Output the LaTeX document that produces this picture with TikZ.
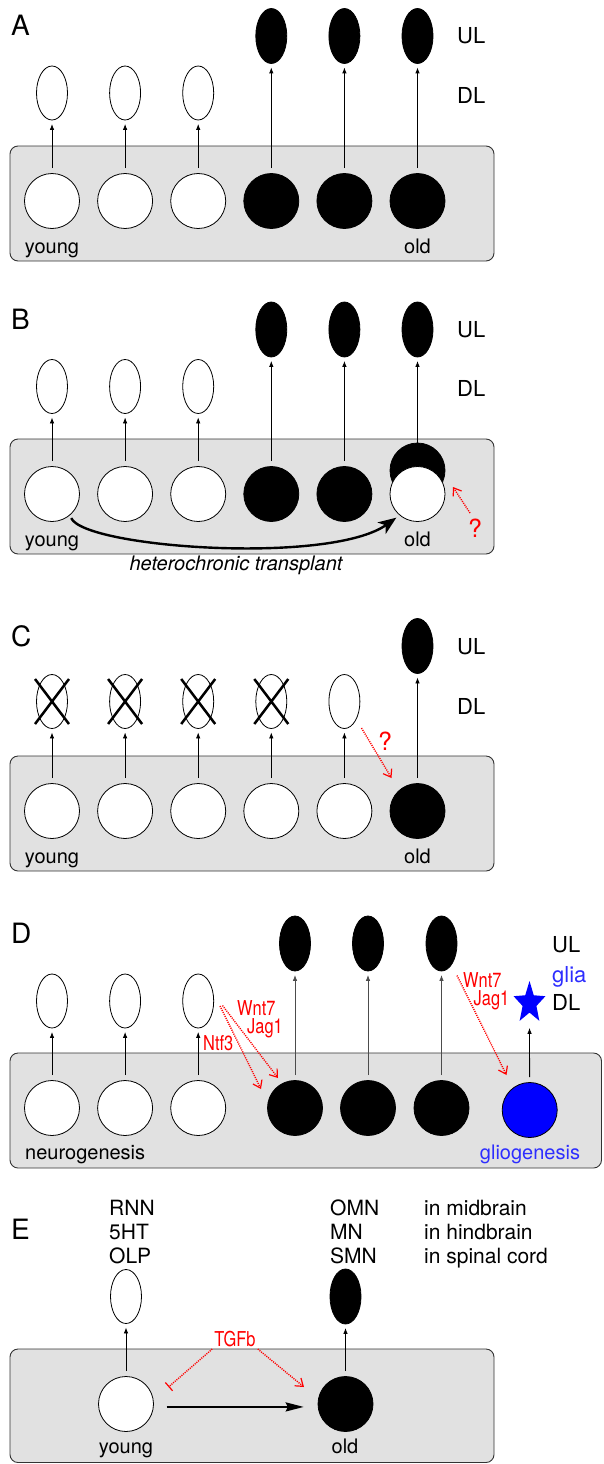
\documentclass[tikz,border=0pt]{standalone}
\usepackage{fontspec}
\setmainfont{TeX Gyre Heros}
\newfontfamily\narrowfont[FakeStretch=0.8]{TeX Gyre Heros}
\usetikzlibrary{shapes.geometric,arrows.meta}
\definecolor{zonegray}{RGB}{225,225,225}
\definecolor{gliablue}{RGB}{45,45,255}

\tikzset{
  zone/.style={draw=black!80, fill=zonegray, rounded corners=8pt, line width=0.9pt},
  young/.style={circle, draw, fill=white, minimum size=55pt, inner sep=0pt, line width=0.8pt},
  old/.style={young, fill=black},
  glial/.style={young, fill=blue},
  dlcell/.style={ellipse, draw, fill=white, minimum width=31pt, minimum height=54pt, inner sep=0pt, line width=0.8pt},
  ulcell/.style={dlcell, fill=black, minimum height=55pt},
  uparrow/.style={-{Latex[length=6pt,width=4.5pt]}, line width=0.8pt, shorten <=5pt, shorten >=3.5pt},
  cue/.style={red, line width=1.4pt, dash pattern=on 1.1pt off 1.1pt, -{Straight Barb[length=7pt,width=10pt,line width=1.2pt]}},
  cueinhib/.style={cue, -{Bar[width=11pt,line width=1.2pt]}},
  xmark/.style={line width=2.5pt},
  panel/.style={anchor=base west, inner sep=0pt, font=\fontsize{28}{32}\selectfont},
  layertext/.style={anchor=base west, inner sep=0pt, font=\fontsize{22}{26}\selectfont},
  etext/.style={anchor=base west, inner sep=0pt, font=\fontsize{21}{24}\selectfont},
  agetext/.style={anchor=base, inner sep=0pt, font=\fontsize{20}{24}\selectfont},
  cuetext/.style={red, anchor=base west, inner sep=0pt, font=\fontsize{20.5}{24}\narrowfont},
  qmark/.style={red, anchor=base, inner sep=0pt, font=\fontsize{25}{28}\selectfont},
}

\begin{document}
\begin{tikzpicture}[x=1pt,y=-1pt]
\useasboundingbox (0,0) rectangle (603,1464);

% panel A
\node[panel] (pa) at (11,36) {A};
\draw[zone] (10,146) rectangle (494,261);
\foreach \i in {1,2,3}{
  \node[young] (a\i) at ({52+73.1*(\i-1)},201) {};
  \node[dlcell] (na\i) at ({52+73.1*(\i-1)},93) {};
  \draw[uparrow] (a\i) -- (na\i);
}
\foreach \i in {4,5,6}{
  \node[old] (a\i) at ({52+73.1*(\i-1)},201) {};
  \node[ulcell] (na\i) at ({52+73.1*(\i-1)},36) {};
  \draw[uparrow] (a\i) -- (na\i);
}
\node[agetext] (ya) at (52,253) {young};
\node[agetext] (oa) at (417.5,253) {old};
\node[layertext] (ula) at (457,44) {UL};
\node[layertext] (dla) at (457,103) {DL};

% panel B
\node[panel] (pb) at (11,329) {B};
\draw[zone] (10,439) rectangle (494,554);
\foreach \i in {1,2,3}{
  \node[young] (b\i) at ({52+73.1*(\i-1)},494) {};
  \node[dlcell] (nb\i) at ({52+73.1*(\i-1)},386.5) {};
  \draw[uparrow] (b\i) -- (nb\i);
}
\foreach \i in {4,5}{
  \node[old] (b\i) at ({52+73.1*(\i-1)},494) {};
  \node[ulcell] (nb\i) at ({52+73.1*(\i-1)},329.5) {};
  \draw[uparrow] (b\i) -- (nb\i);
}
\node[old] (b6o) at (417.5,470.5) {};
\node[young] (b6) at (417.5,494) {};
\node[ulcell] (nb6) at (417.5,329.5) {};
\draw[uparrow, shorten <=0pt] (b6o) -- (nb6);
\node[agetext] (yb) at (52,546) {young};
\node[agetext] (ob) at (417.5,546) {old};
\node[layertext] (ulb) at (457,337.5) {UL};
\node[layertext] (dlb) at (457,396) {DL};
% transplantation
\draw[line width=2.4pt, -{Stealth[length=18pt,width=14pt,inset=5pt]}, shorten <=3pt, shorten >=4pt]
  (b1.-50) .. controls (85,548) and (330,565) .. (b6.230);
\node[font=\fontsize{20}{24}\selectfont\itshape] (ht) at (236,565) {heterochronic transplant};
\node[qmark] (qb) at (475,537.5) {?};
\coordinate (qbt) at (470,513);
\coordinate (qbh) at (453,487);
\draw[cue] (qbt) -- (qbh);

% panel C
\node[panel] (pc) at (11,646) {C};
\draw[zone] (10,756) rectangle (494,871);
\foreach \i in {1,...,5}{
  \node[young] (c\i) at ({52+73.1*(\i-1)},811) {};
  \node[dlcell] (nc\i) at ({52+73.1*(\i-1)},701.5) {};
  \draw[uparrow] (c\i) -- (nc\i);
}
\foreach \i in {1,...,4}
  \draw[xmark] (nc\i.center) ++(-17,-22.5) -- ++(34,45) (nc\i.center) ++(17,-22.5) -- ++(-34,45);
\node[old] (c6) at (417.5,811) {};
\node[ulcell] (nc6) at (417.5,646) {};
\draw[uparrow] (c6) -- (nc6);
\node[agetext] (yc) at (52,863) {young};
\node[agetext] (oc) at (417.5,863) {old};
\node[layertext] (ulc) at (457,654) {UL};
\node[layertext] (dlc) at (457,714) {DL};
\node[qmark] (qc) at (385,750) {?};
\coordinate (qct) at (361.5,728);
\coordinate (qch) at (391.5,778);
\draw[cue] (qct) -- (qch);

% panel D
\node[panel] (pd) at (11,943) {D};
\draw[zone] (10,1053) rectangle (601.5,1168);
\foreach \i in {1,2,3}{
  \node[young] (d\i) at ({52+73.1*(\i-1)},1108) {};
  \node[dlcell] (nd\i) at ({52+73.1*(\i-1)},1001) {};
  \draw[uparrow] (d\i) -- (nd\i);
}
\foreach \i/\x in {4/295,5/368,6/441.5}{
  \node[old] (d\i) at (\x,1108) {};
  \node[ulcell] (nd\i) at (\x,943.5) {};
  \draw[uparrow, black!70] (d\i) -- (nd\i);
}
\node[glial] (d7) at (529.7,1110) {};
\node[star, star points=5, star point ratio=2.3, minimum size=44pt, inner sep=0pt, fill=blue, xscale=0.76, transform shape] (d7s) at (529.5,1003) {};
\draw[uparrow, shorten >=15pt] (d7) -- (d7s.south);
\node[agetext, anchor=base west] (nd) at (25,1159) {neurogenesis};
\node[agetext, gliablue] (gd) at (530,1159) {gliogenesis};
\node[layertext] (uld) at (552,952) {UL};
\node[layertext, gliablue] (gld) at (552,982) {glia};
\node[layertext] (dld) at (552,1010) {DL};
% signaler
\node[cuetext] (ntf) at (203,1050) {Ntf3};
\node[cuetext] (wnta) at (237,1015) {Wnt7};
\node[cuetext] (jaga) at (247,1033) {Jag1};
\node[cuetext] (wntb) at (463,987.5) {Wnt7};
\node[cuetext] (jagb) at (473.5,1005.5) {Jag1};
\coordinate (sa) at (220,1006);
\coordinate (ha) at (261,1089);
\coordinate (sb) at (222.5,1005.5);
\coordinate (hb) at (278,1078);
\coordinate (sc) at (457,975.5);
\coordinate (hc) at (506.5,1075);
\draw[cue] (sa) -- (ha);
\draw[cue] (sb) -- (hb);
\draw[cue] (sc) -- (hc);

% panel E
\node[panel] (pe) at (11,1239) {E};
\draw[zone] (10,1349) rectangle (494,1462.5);
\node[young] (e1) at (126,1404) {};
\node[old] (e2) at (345.5,1404) {};
\node[dlcell] (ne1) at (126,1296.5) {};
\node[ulcell] (ne2) at (345.5,1296.5) {};
\draw[uparrow] (e1) -- (ne1);
\draw[uparrow] (e2) -- (ne2);
\draw[line width=2pt, -{Stealth[length=18pt,width=9pt,inset=2pt]}, shorten <=13pt, shorten >=14pt] (e1.-6) -- (e2.186);
\node[agetext] (ye) at (126,1453.5) {young};
\node[agetext] (oe) at (345,1453.5) {old};
\foreach \t/\y [count=\k] in {RNN/1215,5HT/1239,OLP/1263}
  \node[etext] (el\k) at (109,\y) {\t};
\foreach \t/\y [count=\k] in {OMN/1215,MN/1239,SMN/1263}
  \node[etext] (em\k) at (330,\y) {\t};
\foreach \t/\y [count=\k] in {in midbrain/1215,in hindbrain/1239,in spinal cord/1263}
  \node[etext] (er\k) at (424,\y) {\t};
\node[cuetext, anchor=center, inner sep=2pt] (tgfb) at (235,1339) {TGFb};
\coordinate (einh) at (168.5,1387);
\coordinate (eact) at (304,1387);
\draw[cueinhib] (tgfb.south west) -- (einh);
\draw[cue] (tgfb.south east) -- (eact);
\end{tikzpicture}
\end{document}
